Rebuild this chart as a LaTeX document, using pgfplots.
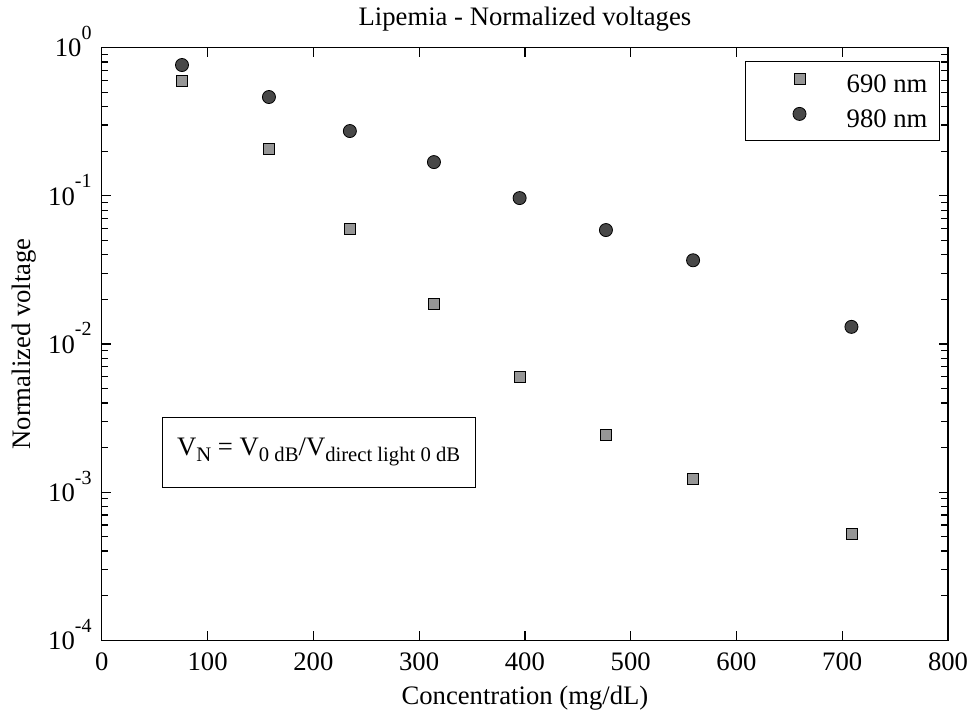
\documentclass[border=0pt]{standalone}
\usepackage{fontspec}
\setmainfont{Liberation Serif}
\usepackage{pgfplots}
\pgfplotsset{compat=1.18}
\definecolor{sqfill}{RGB}{150,150,150}
\definecolor{cifill}{RGB}{72,72,72}
\newcommand{\sups}[1]{\raisebox{13pt}{\fontsize{15}{15}\selectfont #1}}
\newcommand{\subs}[1]{\raisebox{-4.5pt}{\fontsize{15.5}{15.5}\selectfont #1}}
\begin{document}
\fontsize{20}{24}\selectfont
\begin{tikzpicture}
\begin{axis}[
  scale only axis,
  width=634.5pt, height=444.4pt,
  xmin=0, xmax=800,
  ymode=log, ymin=1e-4, ymax=1,
  xtick={0,100,...,800},
  ytick={1e-4,1e-3,1e-2,1e-1,1},
  minor ytick={2e-4,3e-4,4e-4,5e-4,6e-4,7e-4,8e-4,9e-4,
               2e-3,3e-3,4e-3,5e-3,6e-3,7e-3,8e-3,9e-3,
               2e-2,3e-2,4e-2,5e-2,6e-2,7e-2,8e-2,9e-2,
               2e-1,3e-1,4e-1,5e-1,6e-1,7e-1,8e-1,9e-1},
  yticklabels={10\sups{-4},10\sups{-3},10\sups{-2},10\sups{-1},10\sups{0}},
  /pgf/number format/assume math mode=true,
  tick align=inside,
  major tick length=7pt, minor tick length=5pt,
  axis line style={line width=1pt},
  every tick/.style={black, line width=0.9pt},
  xticklabel style={anchor=base, yshift=-22.5pt, inner sep=0pt},
  yticklabel style={anchor=base east, yshift=-7pt, xshift=-7.5pt, inner sep=0pt},
  title={Lipemia - Normalized voltages},
  title style={at={(axis description cs:0.5,1.037)}, anchor=base, inner sep=0pt, yshift=-6pt},
  xlabel={Concentration (mg/dL)},
  xlabel style={at={(axis description cs:0.5,-0.108)}, anchor=base, inner sep=0pt},
  ylabel={Normalized voltage},
  ylabel style={at={(axis description cs:-0.0922,0.5)}, anchor=center, inner sep=0pt},
  legend style={at={(axis description cs:0.9905,0.9774)}, anchor=north east,
    draw=black, line width=0.75pt, inner xsep=9pt, inner ysep=8.5pt,
    row sep=9.9pt, font=\fontsize{20}{24}\selectfont,
    nodes={inner sep=0pt, text height=15pt, text depth=1pt}},
  legend cell align=left,
  myleg/.style={legend image code/.code={%
     \path (0pt,0pt) (66pt,0pt);
     \draw[##1,only marks] plot coordinates {(31pt,3.5pt)};}},
]
\addplot[only marks, mark=square*, mark size=4.1pt,
  mark options={fill=sqfill, draw=black, line width=0.6pt}, myleg]
  coordinates {(75.8,0.595) (158,0.2067) (234.5,0.0596) (314,0.01857)
               (395,0.00597) (476.6,0.00242) (559,0.001228) (708.7,0.00052)};
\addlegendentry{690 nm}
\addplot[only marks, mark=*, mark size=4.9pt,
  mark options={fill=cifill, draw=black, line width=0.6pt}, myleg]
  coordinates {(75.8,0.763) (158,0.464) (234.5,0.2735) (314,0.1688)
               (395,0.0965) (476.6,0.0587) (559,0.0367) (708.7,0.01304)};
\addlegendentry{980 nm}
\node[draw=black, line width=0.75pt, fill=white, minimum width=234.75pt,
  minimum height=52.5pt, inner sep=0pt, font=\fontsize{20}{24}\selectfont]
  at (axis cs:205,1.86e-3)
  {V\subs{N} = V\subs{0 dB}/V\subs{direct light 0 dB}};
\end{axis}
\path[use as bounding box]
  ([xshift=-76.35pt,yshift=-59.25pt]current axis.south west)
  rectangle ([xshift=18pt,yshift=35.7pt]current axis.north east);
\end{tikzpicture}
\end{document}
